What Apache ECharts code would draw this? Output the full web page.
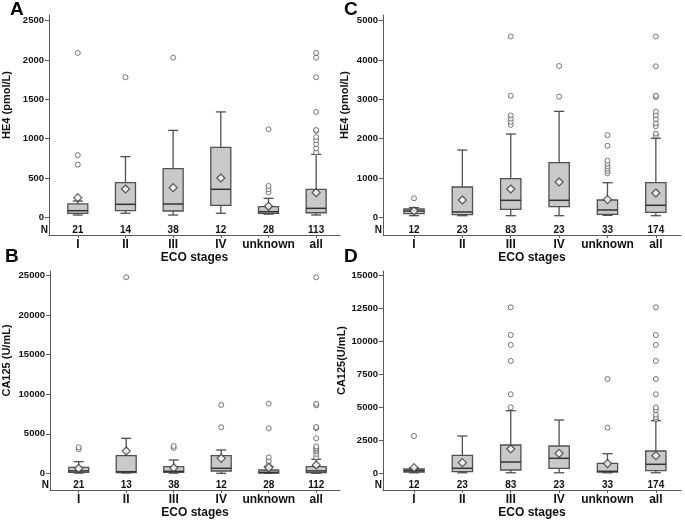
<!DOCTYPE html>
<html><head><meta charset="utf-8">
<script src="https://cdn.jsdelivr.net/npm/echarts@6/dist/echarts.min.js"></script>
<style>html,body{margin:0;padding:0;background:#fff}#c{width:685px;height:520px}</style>
</head><body><div id="c"></div>
<script>
const categories = ['I', 'II', 'III', 'IV', 'unknown', 'all'];

// Panel A: HE4 (pmol/L), first cohort
const nA = [21, 14, 38, 12, 28, 113];
const boxA = [[29, 51, 84, 170, 207], [51, 84, 165, 440, 771], [29, 80, 169, 618, 1105], [51, 152, 356, 890, 1340], [40, 51, 71, 135, 241], [29, 58, 114, 356, 800]];
const meanA = [250, 360, 377, 500, 140, 313];
const outA = [[670, 790, 2090], [1780], [2030], [], [318, 356, 398, 1120], [825, 875, 930, 980, 1020, 1100, 1110, 1340, 1780, 2030, 2090]];
const ticksA = [0, 500, 1000, 1500, 2000, 2500];

// Panel B: CA125 (U/mL), first cohort
const nB = [21, 13, 38, 12, 28, 112];
const boxB = [[20, 126, 300, 759, 1470], [40, 80, 200, 2226, 4427], [20, 126, 250, 835, 1683], [0, 290, 632, 2226, 2947], [0, 40, 120, 417, 870], [0, 80, 300, 835, 1771]];
const meanB = [632, 2821, 700, 1897, 716, 1050];
const outB = [[3040, 3290], [24800], [3200, 3450], [5830, 8650], [1050, 1550, 2020, 5690, 8810], [2050, 2450, 2800, 3000, 3200, 3400, 4430, 5700, 5850, 8600, 8800, 24800]];
const ticksB = [0, 5000, 10000, 15000, 20000, 25000];

// Panel C: HE4 (pmol/L), second cohort
const nC = [12, 23, 83, 23, 33, 174];
const boxC = [[41, 92, 160, 211, 245], [41, 66, 135, 771, 1711], [41, 203, 432, 982, 2118], [41, 270, 432, 1389, 2695], [50, 76, 186, 440, 880], [41, 127, 305, 880, 2009]];
const meanC = [165, 440, 720, 898, 450, 618];
const outC = [[483], [], [2350, 2430, 2510, 2590, 3090, 4600], [3068, 3848], [1120, 1180, 1240, 1300, 1370, 1440, 1820, 2090], [2080, 2130, 2320, 2390, 2500, 2600, 2690, 3060, 3090, 3840, 4600]];
const ticksC = [0, 1000, 2000, 3000, 4000, 5000];

// Panel D: CA125 (U/mL), second cohort
const nD = [12, 23, 83, 23, 33, 174];
const boxD = [[40, 99, 200, 326, 400], [40, 121, 380, 1366, 2831], [40, 250, 858, 2148, 4751], [40, 380, 1138, 2072, 4046], [40, 100, 150, 759, 1488], [40, 197, 683, 1693, 3995]];
const meanD = [430, 805, 1844, 1518, 740, 1336];
const outD = [[2830], [], [5000, 6000, 8530, 9750, 10500, 12600], [], [3460, 7160], [4100, 4250, 4450, 4800, 5000, 6000, 7160, 8530, 9750, 10500, 12600]];
const ticksD = [0, 2500, 5000, 7500, 10000, 12500, 15000];

const FONT = '"Liberation Sans", Arial, sans-serif';
const AX = '#5a5a5a';
const idx = categories.map((c, i) => i);

const panels = [
  {letter: 'A', n: nA, box: boxA, mean: meanA, out: outA, ticks: ticksA, title: 'HE4 (pmol/L)',
   grid: {left: 47, top: 15, width: 293, height: 220}, xr: [-0.604, 5.5], yr: [-225, 2572], nPos: -161, nameGap: 37, lt: {left: 10, top: 0}},
  {letter: 'B', n: nB, box: boxB, mean: meanB, out: outB, ticks: ticksB, title: 'CA125 (U/mL)',
   grid: {left: 47, top: 271, width: 293, height: 219}, xr: [-0.604, 5.5], yr: [-2113, 25595], nPos: -1480, nameGap: 38, lt: {left: 5, top: 247}},
  {letter: 'C', n: nC, box: boxC, mean: meanC, out: outC, ticks: ticksC, title: 'HE4 (pmol/L)',
   grid: {left: 383, top: 15, width: 298, height: 220}, xr: [-0.641, 5.52], yr: [-450, 5145], nPos: -322, nameGap: 33, lt: {left: 344, top: 0}},
  {letter: 'D', n: nD, box: boxD, mean: meanD, out: outD, ticks: ticksD, title: 'CA125(U/mL)',
   grid: {left: 383, top: 271, width: 298, height: 219}, xr: [-0.641, 5.52], yr: [-1268, 15357], nPos: -888, nameGap: 33, lt: {left: 344, top: 247}}
];

function renderBox(params, api) {
  const i = api.value(0);
  const lo = api.coord([i, api.value(1)]);
  const q1 = api.coord([i, api.value(2)]);
  const md = api.coord([i, api.value(3)]);
  const q3 = api.coord([i, api.value(4)]);
  const hi = api.coord([i, api.value(5)]);
  const bw = api.size([1, 0])[0] * 0.42;
  const cw = bw / 2;
  const x = lo[0];
  const st = {stroke: '#505050', lineWidth: 1.3};
  return {type: 'group', children: [
    {type: 'line', shape: {x1: x, y1: hi[1], x2: x, y2: q3[1]}, style: st},
    {type: 'line', shape: {x1: x, y1: q1[1], x2: x, y2: lo[1]}, style: st},
    {type: 'line', shape: {x1: x - cw / 2, y1: hi[1], x2: x + cw / 2, y2: hi[1]}, style: st},
    {type: 'line', shape: {x1: x - cw / 2, y1: lo[1], x2: x + cw / 2, y2: lo[1]}, style: st},
    {type: 'rect', shape: {x: x - bw / 2, y: q3[1], width: bw, height: q1[1] - q3[1]}, style: {fill: '#c9c9c9', stroke: '#505050', lineWidth: 1.3}},
    {type: 'line', shape: {x1: x - bw / 2, y1: md[1], x2: x + bw / 2, y2: md[1]}, style: {stroke: '#333', lineWidth: 1.5}}
  ]};
}

const option = {animation: false, backgroundColor: '#fff', title: [], grid: [], xAxis: [], yAxis: [], series: []};

panels.forEach((p, g) => {
  option.title.push({text: p.letter, left: p.lt.left, top: p.lt.top, padding: 0,
    textStyle: {fontFamily: FONT, fontSize: 19, fontWeight: 'bold', color: '#000'}});
  option.grid.push(Object.assign({containLabel: false}, p.grid));
  // main category-like x axis
  option.xAxis.push({type: 'value', gridIndex: g, min: p.xr[0], max: p.xr[1], splitLine: {show: false},
    axisLine: {show: true, onZero: false, lineStyle: {color: AX, width: 1}},
    axisTick: {show: true, length: 3, customValues: idx, lineStyle: {color: AX}},
    axisLabel: {customValues: idx, formatter: v => categories[Math.round(v)], margin: 4,
      fontFamily: FONT, fontSize: 12, fontWeight: 'bold', color: '#111'},
    name: 'ECO stages', nameLocation: 'middle', nameGap: 16,
    nameTextStyle: {fontFamily: FONT, fontSize: 12, fontWeight: 'bold', color: '#111'}});
  // N row
  option.xAxis.push({type: 'value', gridIndex: g, min: p.xr[0], max: p.xr[1], position: 'bottom', splitLine: {show: false},
    axisLine: {show: false, onZero: false}, axisTick: {show: false},
    axisLabel: {inside: true, customValues: idx, formatter: v => String(p.n[Math.round(v)]), margin: 0,
      fontFamily: FONT, fontSize: 10, fontWeight: 'bold', color: '#111'}});
  option.yAxis.push({type: 'value', gridIndex: g, min: p.yr[0], max: p.yr[1], splitLine: {show: false},
    axisLine: {show: true, onZero: false, lineStyle: {color: AX, width: 1}},
    axisTick: {show: true, length: 4, customValues: p.ticks, lineStyle: {color: AX}},
    axisLabel: {customValues: [p.nPos].concat(p.ticks), margin: 1,
      formatter: v => v < 0 ? '{n|N}' : '{t|' + v + '}',
      rich: {t: {fontFamily: FONT, fontSize: 9.5, fontWeight: 'bold', color: '#111', padding: [0, 4, 0, 0]},
             n: {fontFamily: FONT, fontSize: 10, fontWeight: 'bold', color: '#111'}}},
    name: p.title, nameLocation: 'middle', nameGap: p.nameGap, nameRotate: 90,
    nameTextStyle: {fontFamily: FONT, fontSize: 11, fontWeight: 'bold', color: '#111', padding: [0, 0, 0, 40]}});

  option.series.push({type: 'custom', xAxisIndex: 2 * g, yAxisIndex: g, renderItem: renderBox,
    encode: {x: 0, y: [1, 2, 3, 4, 5]}, data: p.box.map((b, i) => [i].concat(b)), z: 2});
  const outs = [];
  p.out.forEach((arr, i) => arr.forEach(v => outs.push([i, v])));
  option.series.push({type: 'scatter', xAxisIndex: 2 * g, yAxisIndex: g, symbol: 'circle', symbolSize: 5,
    itemStyle: {color: '#fff', borderColor: '#555', borderWidth: 1}, data: outs, z: 3});
  option.series.push({type: 'scatter', xAxisIndex: 2 * g, yAxisIndex: g, symbol: 'diamond', symbolSize: 8,
    itemStyle: {color: '#fff', borderColor: '#333', borderWidth: 1.2}, data: p.mean.map((m, i) => [i, m]), z: 4});
});

const chart = echarts.init(document.getElementById('c'), null, {renderer: 'canvas'});
chart.setOption(option);
</script>
</body></html>
